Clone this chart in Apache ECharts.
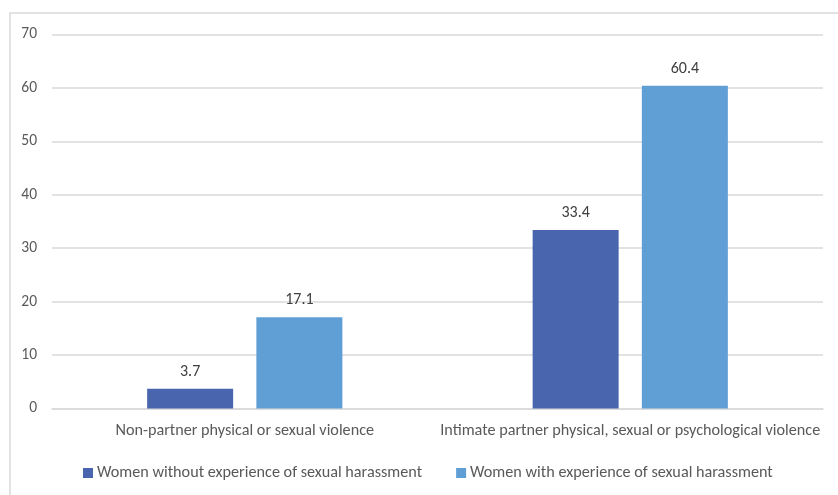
<!DOCTYPE html>
<html><head><meta charset="utf-8">
<script src="https://cdn.jsdelivr.net/npm/echarts@6/dist/echarts.min.js"></script>
<style>html,body{margin:0;padding:0;background:#fff}#c{width:838px;height:495px}</style>
</head><body><div id="c"></div>
<script>
const categories = ['Non-partner physical or sexual violence', 'Intimate partner physical, sexual or psychological violence'];
const seriesNames = ['Women without experience of sexual harassment', 'Women with experience of sexual harassment'];
const withoutValues = [3.7, 33.4];
const withValues = [17.1, 60.4];
const yTicks = {min: 0, max: 70, interval: 10};

const chart = echarts.init(document.getElementById('c'), null, {renderer: 'canvas'});
const font = 'Carlito, Lato, "Open Sans", "Noto Sans", sans-serif';
chart.setOption({
  animation: false,
  backgroundColor: '#fff',
  textStyle: {fontFamily: font},
  graphic: [{type: 'rect', left: 7.5, top: 10.5, shape: {width: 850, height: 500}, style: {fill: 'none', stroke: '#d9d9d9', lineWidth: 1.5}, silent: true}],
  grid: {left: 52, right: 15, top: 34.5, bottom: 86.5},
  legend: {
    top: 460, left: 78, itemWidth: 10, itemHeight: 10, itemGap: 34,
    icon: 'rect',
    textStyle: {color: '#595959', fontSize: 16.2, fontFamily: font, padding: [0, 0, 0, -1]},
    data: seriesNames
  },
  xAxis: {
    type: 'category', data: categories,
    axisLine: {lineStyle: {color: '#d9d9d9', width: 1.5}},
    axisTick: {show: false},
    axisLabel: {color: '#595959', fontSize: 16.2, margin: 14, interval: 0, fontFamily: font}
  },
  yAxis: {
    type: 'value', min: yTicks.min, max: yTicks.max, interval: yTicks.interval,
    axisLine: {show: false}, axisTick: {show: false},
    axisLabel: {color: '#595959', fontSize: 15.5, margin: 15, fontFamily: font},
    splitLine: {lineStyle: {color: '#d9d9d9', width: 1.5}}
  },
  series: [
    {name: seriesNames[0], type: 'bar', data: withoutValues, barWidth: 86, barGap: '27%',
     itemStyle: {color: '#4865ad'},
     label: {show: true, position: 'top', distance: 9, color: '#404040', fontSize: 16, fontFamily: font}},
    {name: seriesNames[1], type: 'bar', data: withValues, barWidth: 86,
     itemStyle: {color: '#609fd5'},
     label: {show: true, position: 'top', distance: 9, color: '#404040', fontSize: 16, fontFamily: font}}
  ]
});
</script></body></html>
